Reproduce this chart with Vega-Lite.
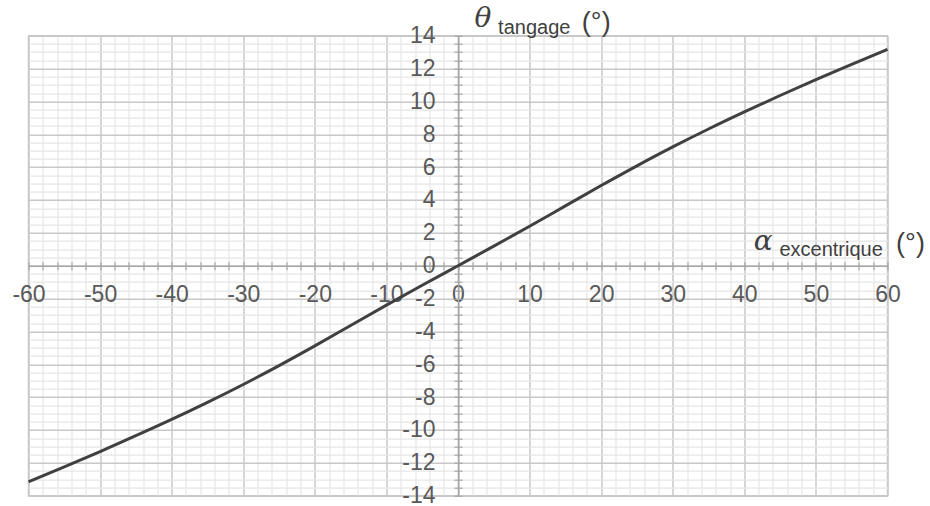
{
  "$schema": "https://vega.github.io/schema/vega-lite/v6.json",
  "width": 859,
  "height": 460,
  "autosize": "none",
  "padding": {"left": 28.5, "top": 35.7, "right": 42.5, "bottom": 10.3},
  "background": "white",
  "config": {
    "view": {"stroke": "#c8c8c8", "strokeWidth": 1.5},
    "axis": {"zindex": 0}
  },
  "data": {"values": [
    {"alpha": -60, "theta": -13.15},
    {"alpha": -55, "theta": -12.24},
    {"alpha": -50, "theta": -11.31},
    {"alpha": -45, "theta": -10.35},
    {"alpha": -40, "theta": -9.36},
    {"alpha": -35, "theta": -8.32},
    {"alpha": -30, "theta": -7.23},
    {"alpha": -25, "theta": -6.08},
    {"alpha": -20, "theta": -4.88},
    {"alpha": -15, "theta": -3.64},
    {"alpha": -10, "theta": -2.4},
    {"alpha": -5, "theta": -1.19},
    {"alpha": 0, "theta": 0},
    {"alpha": 5, "theta": 1.19},
    {"alpha": 10, "theta": 2.4},
    {"alpha": 15, "theta": 3.64},
    {"alpha": 20, "theta": 4.88},
    {"alpha": 25, "theta": 6.08},
    {"alpha": 30, "theta": 7.23},
    {"alpha": 35, "theta": 8.32},
    {"alpha": 40, "theta": 9.36},
    {"alpha": 45, "theta": 10.36},
    {"alpha": 50, "theta": 11.32},
    {"alpha": 55, "theta": 12.25},
    {"alpha": 60, "theta": 13.17}
  ]},
  "resolve": {"axis": {"x": "independent", "y": "independent"}},
  "layer": [
    {
      "mark": {"type": "line", "strokeOpacity": 0},
      "encoding": {
        "x": {"field": "alpha", "type": "quantitative", "scale": {"domain": [-60, 60], "nice": false, "zero": false},
          "axis": {"orient": "bottom", "grid": true, "labels": false, "ticks": false, "domain": false, "title": null,
            "values": [-60,-58,-56,-54,-52,-50,-48,-46,-44,-42,-40,-38,-36,-34,-32,-30,-28,-26,-24,-22,-20,-18,-16,-14,-12,-10,-8,-6,-4,-2,0,2,4,6,8,10,12,14,16,18,20,22,24,26,28,30,32,34,36,38,40,42,44,46,48,50,52,54,56,58,60],
            "gridColor": {"condition": {"test": "datum.value % 10 === 0", "value": "#c8c8c8"}, "value": "#e6e6e6"},
            "gridWidth": {"condition": {"test": "datum.value % 10 === 0", "value": 1.5}, "value": 1.2}}},
        "y": {"field": "theta", "type": "quantitative", "scale": {"domain": [-14, 14], "nice": false, "zero": false},
          "axis": {"orient": "left", "grid": true, "labels": false, "ticks": false, "domain": false, "title": null,
            "values": [-14,-13.5,-13,-12.5,-12,-11.5,-11,-10.5,-10,-9.5,-9,-8.5,-8,-7.5,-7,-6.5,-6,-5.5,-5,-4.5,-4,-3.5,-3,-2.5,-2,-1.5,-1,-0.5,0,0.5,1,1.5,2,2.5,3,3.5,4,4.5,5,5.5,6,6.5,7,7.5,8,8.5,9,9.5,10,10.5,11,11.5,12,12.5,13,13.5,14],
            "gridColor": {"condition": {"test": "datum.value % 2 === 0", "value": "#c8c8c8"}, "value": "#e6e6e6"},
            "gridWidth": {"condition": {"test": "datum.value % 2 === 0", "value": 1.5}, "value": 1.2}}}
      }
    },
    {
      "mark": {"type": "line", "strokeOpacity": 0},
      "encoding": {
        "x": {"field": "alpha", "type": "quantitative", "scale": {"domain": [-60, 60], "nice": false, "zero": false},
          "axis": {"orient": "bottom", "offset": -230, "grid": false, "title": null, "domainColor": "#a6a6a6", "domainWidth": 1.5,
            "tickColor": "#a6a6a6", "tickWidth": 1.2, "tickSize": 4, "labelPadding": 14, "labelOverlap": false, "labelFlush": false,
            "labelFont": "Liberation Sans", "labelFontSize": 23, "labelColor": "#595959",
            "labelExpr": "datum.value % 10 === 0 ? '' + datum.value : ''",
            "values": [-60,-58,-56,-54,-52,-50,-48,-46,-44,-42,-40,-38,-36,-34,-32,-30,-28,-26,-24,-22,-20,-18,-16,-14,-12,-10,-8,-6,-4,-2,0,2,4,6,8,10,12,14,16,18,20,22,24,26,28,30,32,34,36,38,40,42,44,46,48,50,52,54,56,58,60]}},
        "y": {"field": "theta", "type": "quantitative", "scale": {"domain": [-14, 14], "nice": false, "zero": false},
          "axis": {"orient": "left", "offset": -429.5, "grid": false, "title": null, "domainColor": "#a6a6a6", "domainWidth": 1.5,
            "tickColor": "#a6a6a6", "tickWidth": 1.2, "tickSize": 4, "labelPadding": 19, "labelOverlap": false, "labelFlush": false,
            "labelFont": "Liberation Sans", "labelFontSize": 23, "labelColor": "#595959",
            "labelExpr": "datum.value % 2 === 0 ? '' + datum.value : ''",
            "values": [-14,-13.5,-13,-12.5,-12,-11.5,-11,-10.5,-10,-9.5,-9,-8.5,-8,-7.5,-7,-6.5,-6,-5.5,-5,-4.5,-4,-3.5,-3,-2.5,-2,-1.5,-1,-0.5,0,0.5,1,1.5,2,2.5,3,3.5,4,4.5,5,5.5,6,6.5,7,7.5,8,8.5,9,9.5,10,10.5,11,11.5,12,12.5,13,13.5,14]}}
      }
    },
    {
      "mark": {"type": "line", "strokeOpacity": 0},
      "encoding": {
        "x": {"field": "alpha", "type": "quantitative", "scale": {"domain": [-60, 60], "nice": false, "zero": false},
          "axis": {"orient": "top", "offset": -230, "grid": false, "title": null, "domain": false, "labels": false,
            "tickColor": "#a6a6a6", "tickWidth": 1.2, "tickSize": 4,
            "values": [-60,-58,-56,-54,-52,-50,-48,-46,-44,-42,-40,-38,-36,-34,-32,-30,-28,-26,-24,-22,-20,-18,-16,-14,-12,-10,-8,-6,-4,-2,0,2,4,6,8,10,12,14,16,18,20,22,24,26,28,30,32,34,36,38,40,42,44,46,48,50,52,54,56,58,60]}},
        "y": {"field": "theta", "type": "quantitative", "scale": {"domain": [-14, 14], "nice": false, "zero": false},
          "axis": {"orient": "right", "offset": -429.5, "grid": false, "title": null, "domain": false, "labels": false,
            "tickColor": "#a6a6a6", "tickWidth": 1.2, "tickSize": 4,
            "values": [-14,-13.5,-13,-12.5,-12,-11.5,-11,-10.5,-10,-9.5,-9,-8.5,-8,-7.5,-7,-6.5,-6,-5.5,-5,-4.5,-4,-3.5,-3,-2.5,-2,-1.5,-1,-0.5,0,0.5,1,1.5,2,2.5,3,3.5,4,4.5,5,5.5,6,6.5,7,7.5,8,8.5,9,9.5,10,10.5,11,11.5,12,12.5,13,13.5,14]}}
      }
    },
    {
      "mark": {"type": "line", "color": "#404040", "strokeWidth": 3, "interpolate": "monotone"},
      "encoding": {
        "x": {"field": "alpha", "type": "quantitative", "axis": null},
        "y": {"field": "theta", "type": "quantitative", "axis": null}
      }
    },
    {
      "data": {"values": [{}]},
      "mark": {"type": "text", "text": "θ", "font": "DejaVu Serif", "fontStyle": "italic", "fontSize": 28, "align": "left", "baseline": "alphabetic", "color": "#404040"},
      "encoding": {"x": {"datum": 2.3, "type": "quantitative", "axis": null}, "y": {"datum": 14.5, "type": "quantitative", "axis": null}}
    },
    {
      "data": {"values": [{}]},
      "mark": {"type": "text", "text": "tangage", "font": "Liberation Sans", "fontSize": 20, "align": "left", "baseline": "alphabetic", "color": "#404040"},
      "encoding": {"x": {"datum": 5.6, "type": "quantitative", "axis": null}, "y": {"datum": 14.13, "type": "quantitative", "axis": null}}
    },
    {
      "data": {"values": [{}]},
      "mark": {"type": "text", "text": "(°)", "font": "Liberation Sans", "fontSize": 27, "align": "left", "baseline": "alphabetic", "color": "#404040"},
      "encoding": {"x": {"datum": 17.3, "type": "quantitative", "axis": null}, "y": {"datum": 14.3, "type": "quantitative", "axis": null}}
    },
    {
      "data": {"values": [{}]},
      "mark": {"type": "text", "text": "α", "font": "DejaVu Serif", "fontStyle": "italic", "fontSize": 28, "align": "left", "baseline": "alphabetic", "color": "#404040"},
      "encoding": {"x": {"datum": 41.3, "type": "quantitative", "axis": null}, "y": {"datum": 0.96, "type": "quantitative", "axis": null}}
    },
    {
      "data": {"values": [{}]},
      "mark": {"type": "text", "text": "excentrique", "font": "Liberation Sans", "fontSize": 20, "align": "left", "baseline": "alphabetic", "color": "#404040"},
      "encoding": {"x": {"datum": 44.9, "type": "quantitative", "axis": null}, "y": {"datum": 0.59, "type": "quantitative", "axis": null}}
    },
    {
      "data": {"values": [{}]},
      "mark": {"type": "text", "text": "(°)", "font": "Liberation Sans", "fontSize": 27, "align": "left", "baseline": "alphabetic", "color": "#404040"},
      "encoding": {"x": {"datum": 61.2, "type": "quantitative", "axis": null}, "y": {"datum": 0.85, "type": "quantitative", "axis": null}}
    }
  ]
}
